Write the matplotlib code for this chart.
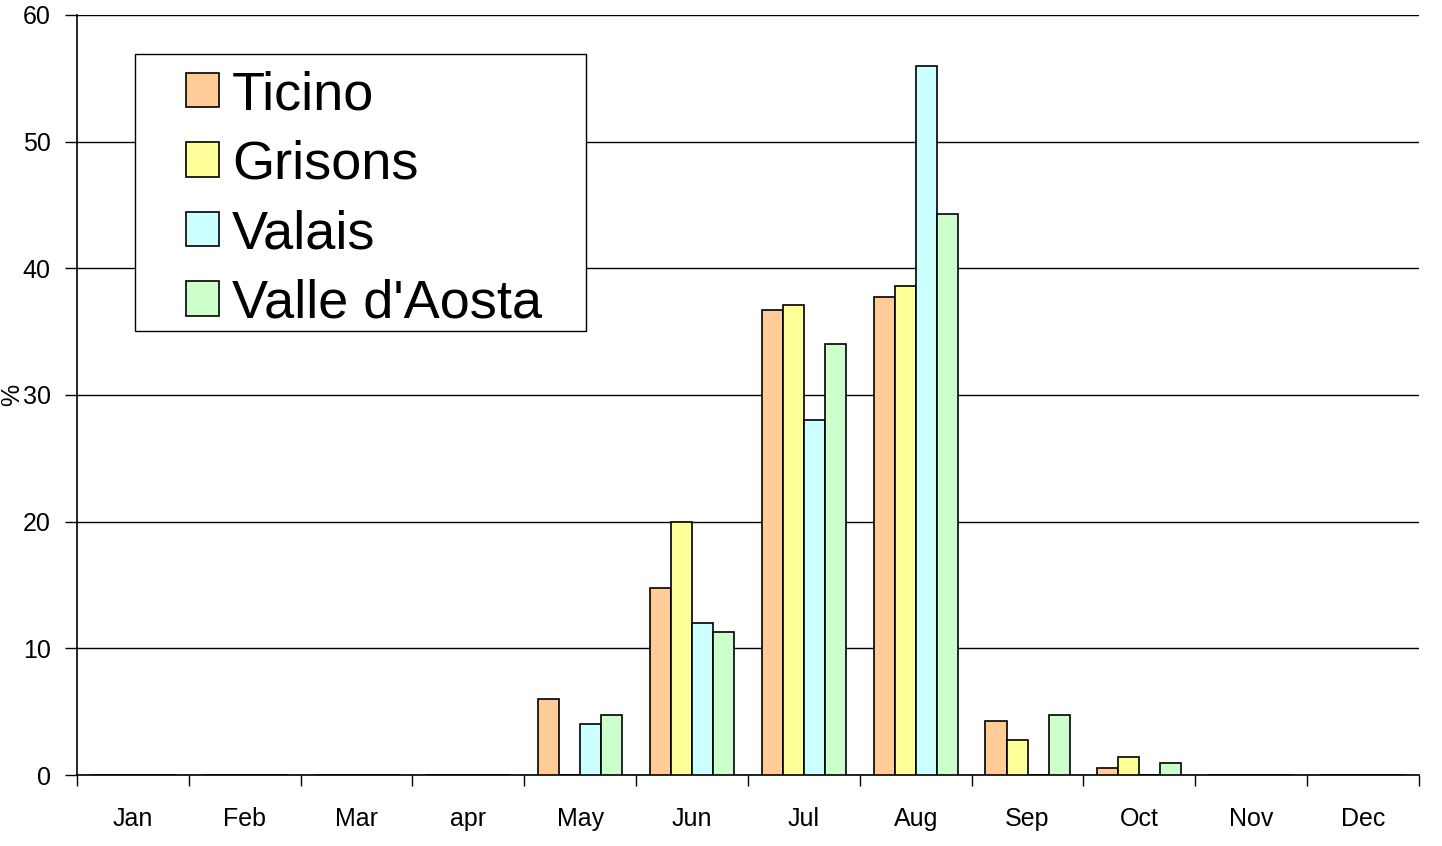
import numpy as np
import matplotlib.pyplot as plt
from matplotlib.patches import Rectangle

# monthly share (%) per region
MONTHS = ["Jan", "Feb", "Mar", "apr", "May", "Jun", "Jul", "Aug", "Sep", "Oct", "Nov", "Dec"]
TICINO = [0, 0, 0, 0, 6.0, 14.8, 36.7, 37.7, 4.3, 0.55, 0, 0]
GRISONS = [0, 0, 0, 0, 0, 20.0, 37.1, 38.6, 2.8, 1.4, 0, 0]
VALAIS = [0, 0, 0, 0, 4.0, 12.0, 28.0, 56.0, 0, 0, 0, 0]
AOSTA = [0, 0, 0, 0, 4.7, 11.3, 34.0, 44.3, 4.7, 0.95, 0, 0]

SERIES = [
    ("Ticino", TICINO, "#FFCC99"),
    ("Grisons", GRISONS, "#FFFF99"),
    ("Valais", VALAIS, "#CCFFFF"),
    ("Valle d'Aosta", AOSTA, "#CCFFCC"),
]

plt.rcParams["font.family"] = ["Liberation Sans", "DejaVu Sans"]

fig = plt.figure(figsize=(14.42, 8.46), dpi=100)
ax = fig.add_axes([0.0534, 0.0839, 0.9306, 0.8984])

x = np.arange(len(MONTHS))
width = 0.188
for i, (name, vals, color) in enumerate(SERIES):
    offset = (i - 1.5) * width
    ax.bar(x + offset, vals, width, color=color, edgecolor="black",
           linewidth=1.2, label=name, zorder=3)

ax.set_xlim(-0.5, 11.5)
ax.set_ylim(0, 60)
ax.set_yticks(range(0, 61, 10))
ax.yaxis.grid(True, color="black", linewidth=1.0, zorder=0)

ax.set_xticks(x)
ax.set_xticklabels(MONTHS)
ax.set_xticks(np.arange(-0.5, 12, 1), minor=True)
ax.tick_params(axis="x", which="major", length=0, pad=23, labelsize=18)
ax.tick_params(axis="x", which="minor", length=8, width=1.0, direction="out")
ax.tick_params(axis="y", length=9, width=1.0, direction="out", labelsize=18, pad=10)

for side in ["top", "right"]:
    ax.spines[side].set_visible(False)
ax.spines["left"].set_linewidth(1.2)
ax.spines["bottom"].set_linewidth(1.2)

fig.text(0.0, 0.533, "%", rotation=90, ha="left", va="center", fontsize=18)

# legend box drawn separately so its padding can match the original
box = Rectangle((0.0432, 0.5842), 0.3361, 0.3645, transform=ax.transAxes,
                facecolor="white", edgecolor="black", linewidth=1.0, zorder=5)
ax.add_patch(box)
leg = ax.legend(loc="upper left", bbox_to_anchor=(0.0812, 0.9274), borderaxespad=0,
                fontsize=39, handlelength=0.61, handleheight=0.61, handletextpad=0.24,
                labelspacing=0.36, borderpad=0, frameon=False)
leg.set_zorder(6)

fig.savefig("out.png", dpi=100)
